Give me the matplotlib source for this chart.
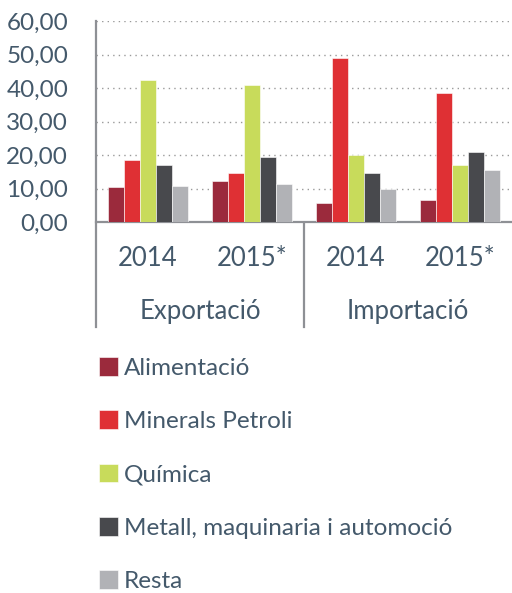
import matplotlib
matplotlib.use("Agg")
import matplotlib.pyplot as plt
import matplotlib.transforms as mtransforms
import numpy as np

plt.rcParams['font.family'] = ['Lato', 'DejaVu Sans']

# data
groups = ["Exportació", "Importació"]
years = ["2014", "2015*", "2014", "2015*"]
series = ["Alimentació", "Minerals Petroli", "Química",
          "Metall, maquinaria i automoció", "Resta"]
alimentacio = [10.5, 12.2, 5.8, 6.6]
minerals = [18.4, 14.6, 48.9, 38.5]
quimica = [42.4, 40.8, 20.1, 16.9]
metall = [16.9, 19.3, 14.6, 20.8]
resta = [10.6, 11.4, 9.8, 15.4]
values = [alimentacio, minerals, quimica, metall, resta]
colors = ["#9B2A3C", "#DF3034", "#C8DB5B", "#48494D", "#B1B2B6"]
yticks = [0, 10, 20, 30, 40, 50, 60]

text_color = "#44596B"
line_color = "#8E9095"

fig = plt.figure(figsize=(5.12, 5.93), dpi=100)
ax = fig.add_axes([96 / 512, 1 - 222 / 593, 1 - 96 / 512, (222 - 21) / 593])

x = np.arange(len(years))
width = 0.154
bars = []
for i, (name, vals, c) in enumerate(zip(series, values, colors)):
    b = ax.bar(x + (i - 2) * width, vals, width, color=c, label=name,
               edgecolor="white", linewidth=0.4, zorder=3)
    bars.append(b)

ax.set_xlim(-0.5, 3.5)
ax.set_ylim(0, 60)
ax.set_yticks(yticks)
ax.set_yticklabels([f"{v:.2f}".replace(".", ",") for v in yticks],
                   fontsize=17.5, color=text_color)
ax.tick_params(axis="y", length=0, pad=20)
ax.set_xticks([])

for y in yticks[1:]:
    ax.axhline(y, color="#9A9A9A", linewidth=1.0, linestyle=(0, (1, 3)), zorder=1)

for side in ["top", "right"]:
    ax.spines[side].set_visible(False)
for side in ["left", "bottom"]:
    ax.spines[side].set_color(line_color)
    ax.spines[side].set_linewidth(1.6)

# multi-level category labels below the axis
trans = mtransforms.blended_transform_factory(ax.transData, ax.transAxes)
h = ax.get_position().height * 593
def ay(py):
    return -(py - 222) / h

for xi, yr in zip(x, years):
    ax.text(xi, ay(258), yr, transform=trans, ha="center", va="center",
            fontsize=18.5, color=text_color)
for gi, g in enumerate(groups):
    ax.text(gi * 2 + 0.5, ay(311), g, transform=trans, ha="center", va="center",
            fontsize=18.5, color=text_color)
for xs in [-0.5, 1.5]:
    ax.plot([xs, xs], [ay(224), ay(327)], transform=trans, color=line_color,
            linewidth=1.6, clip_on=False)

fig.legend(handles=bars, labels=series, loc="upper left",
           bbox_to_anchor=(99 / 512, 1 - 357 / 593), frameon=False,
           fontsize=17.5, labelcolor=text_color, handlelength=0.8,
           handleheight=0.8, handletextpad=0.22, labelspacing=1.3,
           borderaxespad=0, borderpad=0)

fig.savefig("out.png", dpi=100)
